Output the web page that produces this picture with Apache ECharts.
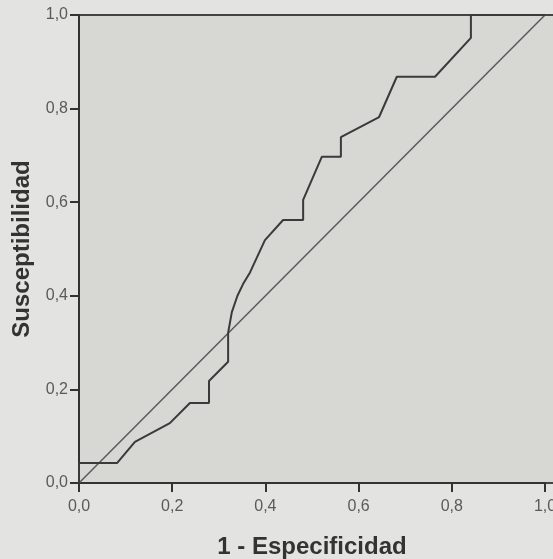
<!DOCTYPE html>
<html>
<head>
<meta charset="utf-8">
<script src="https://cdn.jsdelivr.net/npm/echarts@6/dist/echarts.min.js"></script>
<style>
  html, body { margin: 0; padding: 0; background: #e3e3e1; }
  #chart { width: 553px; height: 559px; }
</style>
</head>
<body>
<div id="chart"></div>
<script>
// curva ROC: 1 - especificidad (x) / susceptibilidad (y)
var fpr = [0, 0, 0.082, 0.120, 0.195, 0.238, 0.279, 0.279, 0.320, 0.320, 0.328, 0.340, 0.352, 0.367, 0.399, 0.438, 0.481, 0.481, 0.521, 0.562, 0.562, 0.644, 0.682, 0.764, 0.841, 0.841, 1.0];
var tpr = [0, 0.043, 0.043, 0.088, 0.128, 0.171, 0.171, 0.218, 0.259, 0.321, 0.365, 0.400, 0.425, 0.450, 0.519, 0.562, 0.562, 0.605, 0.697, 0.697, 0.739, 0.782, 0.868, 0.868, 0.951, 1.0, 1.0];
var refLine = [[0, 0], [1, 1]];
var xTitle = '1 - Especificidad';
var yTitle = 'Susceptibilidad';

var rocData = fpr.map(function (v, i) { return [v, tpr[i]]; });

function fmt(v) {
  return v.toFixed(1).replace('.', ',');
}

var chart = echarts.init(document.getElementById('chart'));

var titleStyle = { color: '#333', fontSize: 24, fontWeight: 'bold', fontFamily: 'Liberation Sans' };

var axisCommon = {
  type: 'value',
  min: 0,
  max: 1,
  interval: 0.2,
  splitLine: { show: false },
  axisLine: { show: true, lineStyle: { color: '#333', width: 2 } },
  axisTick: { show: true, length: 9, lineStyle: { color: '#333', width: 2 } },
  axisLabel: { color: '#5a5a5a', fontSize: 16, fontFamily: 'Liberation Sans', formatter: fmt }
};

chart.setOption({
  backgroundColor: '#e3e3e1',
  animation: false,
  grid: { left: 79, top: 15, right: 8, bottom: 76, containLabel: false, outerBoundsMode: 'none' },
  graphic: [{
    type: 'rect',
    z: -10,
    shape: { x: 79, y: 15, width: 480, height: 468 },
    style: { fill: '#d7d8d4', stroke: '#444', lineWidth: 2 }
  }],
  xAxis: Object.assign({}, axisCommon, {
    name: xTitle,
    nameLocation: 'middle',
    nameGap: 52,
    nameTextStyle: titleStyle,
    axisLabel: Object.assign({}, axisCommon.axisLabel, { margin: 16 })
  }),
  yAxis: Object.assign({}, axisCommon, {
    name: yTitle,
    nameLocation: 'middle',
    nameGap: 40,
    nameTextStyle: titleStyle,
    axisLabel: Object.assign({}, axisCommon.axisLabel, { margin: 11 })
  }),
  series: [{
    type: 'line',
    data: refLine,
    symbol: 'none',
    lineStyle: { color: '#5a5a5a', width: 1.5 }
  }, {
    type: 'line',
    data: rocData,
    symbol: 'none',
    lineStyle: { color: '#3a3a3a', width: 2 }
  }]
});
</script>
</body>
</html>
